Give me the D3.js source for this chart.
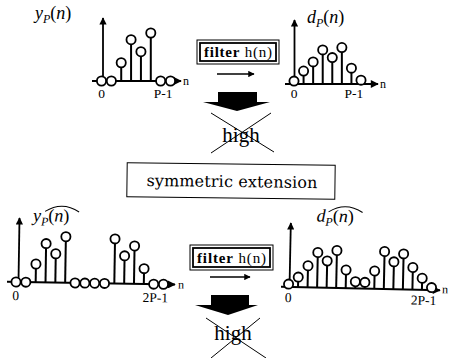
<!DOCTYPE html>
<html lang="en">
<head>
  <meta charset="utf-8" />
  <title>symmetric extension</title>
  <script src="https://d3js.org/d3.v7.min.js"></script>
  <style>
    body { margin: 0; background: #fff; }
    svg { display: block; }
  </style>
</head>
<body>
<svg id="fig" width="450" height="358" font-family="Liberation Serif, DejaVu Serif, serif"></svg>
<script>
// sample values (units: tallest top-left sample = 1)
var yP      = [0, 0, 0.38, 0.86, 0.61, 1.0, 0, 0];
var dP      = [0.06, 0.27, 0.46, 0.71, 0.55, 0.76, 0.33, 0.08];
var yPext   = [0, 0, 0.38, 0.81, 0.6, 0.96, 0, 0, 0, 0, 0.93, 0.58, 0.79, 0.32, 0, 0];
var dPext   = [0.06, 0.21, 0.45, 0.73, 0.56, 0.78, 0.38, 0.14, 0.13, 0.37, 0.78, 0.57, 0.74, 0.46, 0.24, 0.05];
var ticksP  = [[0, "0"], [6.25, "P-1"]];
var ticksP2 = [[0, "0"], [14.2, "2P-1"]];

var SERIF = "Liberation Serif";
var svg = d3.select("#fig");
var defs = svg.append("defs");
defs.append("marker").attr("id", "ah")
  .attr("viewBox", "0 0 10 10").attr("refX", 9).attr("refY", 5)
  .attr("markerWidth", 4.5).attr("markerHeight", 4).attr("orient", "auto")
  .attr("markerUnits", "strokeWidth")
  .append("path").attr("d", "M0,0 L10,5 L0,10 z").attr("fill", "#000");

function txt(sel) { return sel.append("text").attr("font-family", SERIF).attr("fill", "#000"); }

var plots = [
  {vals: yP, x0: 101.5, x1: 170.5, base: 81, unit: 48, axisX: 103, axisTop: 18,
   lineL: 92, lineR: 181, rot: 0, ticks: ticksP, tickY: 98, nX: 183, nY: 85,
   name: "y", lx: 35, ly: 19, hat: false},
  {vals: dP, x0: 294, x1: 361, base: 84, unit: 48, axisX: 294.5, axisTop: 20,
   lineL: 285, lineR: 378, rot: 0, ticks: ticksP, tickY: 98, nX: 380, nY: 88,
   name: "d", lx: 307, ly: 23, hat: false},
  {vals: yPext, x0: 16, x1: 163.5, base: 282, unit: 48, axisX: 18.5, axisTop: 218,
   lineL: 7, lineR: 175, rot: 0.9, ticks: ticksP2, tickY: 300, nX: 178, nY: 286,
   name: "y", lx: 32, ly: 221, hat: true},
  {vals: dPext, x0: 288.5, x1: 431.5, base: 287, unit: 48, axisX: 289.5, axisTop: 223,
   lineL: 281, lineR: 440, rot: 1.2, ticks: ticksP2, tickY: 302, nX: 442, nY: 290,
   name: "d", lx: 315, ly: 221, hat: true}
];

plots.forEach(function(p) {
  var n = p.vals.length;
  var x = d3.scaleLinear().domain([0, n - 1]).range([p.x0, p.x1]);
  var y = d3.scaleLinear().domain([0, 1]).range([p.base, p.base - p.unit]);
  var g = svg.append("g").attr("transform", "rotate(" + p.rot + "," + p.x0 + "," + p.base + ")");

  g.append("line").attr("x1", p.lineL).attr("x2", p.lineR).attr("y1", p.base).attr("y2", p.base)
    .attr("stroke", "#000").attr("stroke-width", 2).attr("marker-end", "url(#ah)");
  g.append("line").attr("x1", p.axisX).attr("x2", p.axisX).attr("y1", p.base).attr("y2", p.axisTop)
    .attr("stroke", "#000").attr("stroke-width", 1.8).attr("marker-end", "url(#ah)");
  txt(g).attr("x", p.nX).attr("y", p.nY).attr("font-size", 12).text("n");

  g.selectAll("line.stem").data(p.vals).enter().append("line").attr("class", "stem")
    .attr("x1", function(d, i) { return x(i); }).attr("x2", function(d, i) { return x(i); })
    .attr("y1", y(0)).attr("y2", function(d) { return y(d); })
    .attr("stroke", "#000").attr("stroke-width", 2);
  g.selectAll("circle").data(p.vals).enter().append("circle")
    .attr("cx", function(d, i) { return x(i); }).attr("cy", function(d) { return y(d); })
    .attr("r", 4.6).attr("fill", "#fff").attr("stroke", "#000").attr("stroke-width", 1.8);

  p.ticks.forEach(function(d) {
    txt(g).attr("x", x(d[0])).attr("y", p.tickY)
      .attr("text-anchor", "middle").attr("font-size", 13.5).text(d[1]);
  });

  var t = txt(g).attr("x", p.lx).attr("y", p.ly).attr("font-size", 18);
  t.append("tspan").attr("font-style", "italic").text(p.name);
  t.append("tspan").attr("font-style", "italic").attr("font-size", 12).attr("dy", 4).text("P");
  t.append("tspan").attr("dy", -4).text("(");
  t.append("tspan").attr("font-style", "italic").text("n");
  t.append("tspan").text(")");
  if (p.hat) {
    var hx = p.lx + 12;
    g.append("path")
      .attr("d", "M" + hx + "," + (p.ly - 10) + " Q" + (hx + 17) + "," + (p.ly - 21) + " " + (hx + 34) + "," + (p.ly - 10))
      .attr("fill", "none").attr("stroke", "#000").attr("stroke-width", 1);
  }
});

// filter boxes, small arrows, big arrows, crossed "high"
function stage(bx, by, bw, bh, ax1, ax2, ay, arr, hx, hy, cross) {
  svg.append("rect").attr("x", bx).attr("y", by).attr("width", bw).attr("height", bh)
    .attr("fill", "none").attr("stroke", "#000").attr("stroke-width", 1);
  svg.append("rect").attr("x", bx + 3).attr("y", by + 3).attr("width", bw - 6).attr("height", bh - 6)
    .attr("fill", "none").attr("stroke", "#000").attr("stroke-width", 1.8);
  var ft = txt(svg).attr("x", bx + bw / 2).attr("y", by + bh - 7)
    .attr("text-anchor", "middle").attr("font-size", 15)
    .attr("textLength", bw - 14).attr("lengthAdjust", "spacing");
  ft.append("tspan").attr("font-weight", "bold").text("filter");
  ft.append("tspan").text("  h(n)");
  svg.append("line").attr("x1", ax1).attr("x2", ax2).attr("y1", ay).attr("y2", ay)
    .attr("stroke", "#000").attr("stroke-width", 1.6).attr("marker-end", "url(#ah)");
  svg.append("polygon").attr("points", arr.map(function(q) { return q.join(","); }).join(" "))
    .attr("fill", "#000");
  txt(svg).attr("x", hx).attr("y", hy).attr("text-anchor", "middle")
    .attr("font-size", 21).text("high");
  cross.forEach(function(c) {
    svg.append("line").attr("x1", c[0]).attr("y1", c[1]).attr("x2", c[2]).attr("y2", c[3])
      .attr("stroke", "#000").attr("stroke-width", 1);
  });
}

stage(197, 40, 82, 24, 217, 254, 74,
  [[218, 92], [257, 92], [257, 102], [270, 102], [237, 111], [203, 102], [218, 102]],
  241, 142, [[211, 113, 274, 152], [271, 113, 211, 153]]);
stage(190, 245, 83, 25, 210, 250, 277,
  [[211, 295], [249, 295], [249, 305], [258, 305], [228, 315], [195, 305], [211, 305]],
  233, 340, [[206, 318, 266, 358], [260, 318, 211, 358]]);

// symmetric extension box
var se = svg.append("g").attr("transform", "rotate(0.7,231,181)");
se.append("rect").attr("x", 127).attr("y", 164).attr("width", 208).attr("height", 34)
  .attr("fill", "none").attr("stroke", "#000").attr("stroke-width", 1);
se.append("text").attr("font-family", "DejaVu Serif").attr("fill", "#000")
  .attr("x", 232).attr("y", 187).attr("text-anchor", "middle")
  .attr("font-size", 16).attr("textLength", 171).attr("lengthAdjust", "spacing")
  .text("symmetric extension");
</script>
</body>
</html>
